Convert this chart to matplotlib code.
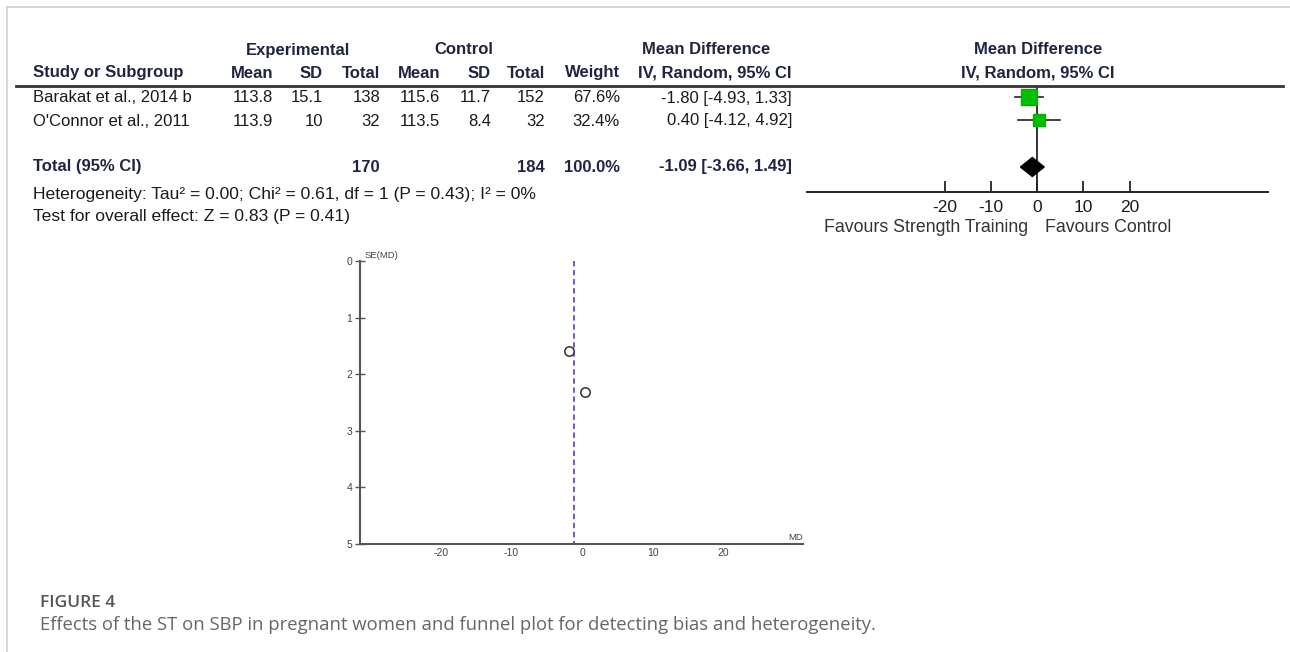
import numpy as np
import matplotlib
matplotlib.use("Agg")
import matplotlib.pyplot as plt
from matplotlib.patches import Polygon

# ---------------- data ----------------
studies = ["Barakat et al., 2014 b", "O'Connor et al., 2011"]
exp_mean = ["113.8", "113.9"]
exp_sd = ["15.1", "10"]
exp_n = [138, 32]
ctl_mean = ["115.6", "113.5"]
ctl_sd = ["11.7", "8.4"]
ctl_n = [152, 32]
weights = [67.6, 32.4]
md = [-1.80, 0.40]
ci_lo = [-4.93, -4.12]
ci_hi = [1.33, 4.92]
pooled_md = -1.09
pooled_lo = -3.66
pooled_hi = 1.49
forest_ticks = [-20, -10, 0, 10, 20]
funnel_xticks = [-20, -10, 0, 10, 20]
funnel_yticks = [0, 1, 2, 3, 4, 5]
heterogeneity = "Heterogeneity: Tau\u00b2 = 0.00; Chi\u00b2 = 0.61, df = 1 (P = 0.43); I\u00b2 = 0%"
overall = "Test for overall effect: Z = 0.83 (P = 0.41)"
left_label = "Favours Strength Training"
right_label = "Favours Control"
caption_title = "FIGURE 4"
caption_text = "Effects of the ST on SBP in pregnant women and funnel plot for detecting bias and heterogeneity."

W, H = 1290, 652
fig = plt.figure(figsize=(W / 100, H / 100), dpi=100)
fig.patch.set_facecolor("white")

def px_axes(x0, y0, x1, y1):
    return fig.add_axes([x0 / W, 1 - y1 / H, (x1 - x0) / W, (y1 - y0) / H])

# overlay in pixel coordinates
ov = fig.add_axes([0, 0, 1, 1])
ov.set_xlim(0, W)
ov.set_ylim(H, 0)
ov.axis("off")

FONT = "Liberation Sans"
TXT = "#1a1a1a"
HDR = "#1f2440"
fs = 12

# frame
ov.plot([7, W], [7, 7], color="#cfcfcf", lw=1.2)
ov.plot([7, 7], [7, H], color="#cfcfcf", lw=1.2)

# header
hy1, hy2 = 50, 73
ov.text(298, hy1, "Experimental", ha="center", va="center", fontsize=fs, fontweight="bold", family=FONT, color=HDR)
ov.text(464, hy1, "Control", ha="center", va="center", fontsize=fs, fontweight="bold", family=FONT, color=HDR)
ov.text(706, hy1, "Mean Difference", ha="center", va="center", fontsize=fs, fontweight="bold", family=FONT, color=HDR)
ov.text(1038, hy1, "Mean Difference", ha="center", va="center", fontsize=fs, fontweight="bold", family=FONT, color=HDR)
ov.text(33, hy2, "Study or Subgroup", ha="left", va="center", fontsize=fs, fontweight="bold", family=FONT, color=HDR)
col_right = [273, 323, 380, 440, 491, 545, 620, 792]
hdrs = ["Mean", "SD", "Total", "Mean", "SD", "Total", "Weight", "IV, Random, 95% CI"]
for xr, h in zip(col_right, hdrs):
    ov.text(xr, hy2, h, ha="right", va="center", fontsize=fs, fontweight="bold", family=FONT, color=HDR)
ov.text(1038, hy2, "IV, Random, 95% CI", ha="center", va="center", fontsize=fs, fontweight="bold", family=FONT, color=HDR)
ov.plot([16, 1283], [86, 86], color="#333333", lw=2)

row_y = [98, 121]
for i, s in enumerate(studies):
    y = row_y[i]
    vals = [exp_mean[i], exp_sd[i], str(exp_n[i]), ctl_mean[i], ctl_sd[i], str(ctl_n[i]),
            f"{weights[i]:.1f}%", f"{md[i]:.2f} [{ci_lo[i]:.2f}, {ci_hi[i]:.2f}]"]
    ov.text(33, y, s, ha="left", va="center", fontsize=fs, family=FONT, color=TXT)
    for xr, v in zip(col_right, vals):
        ov.text(xr, y, v, ha="right", va="center", fontsize=fs, family=FONT, color=TXT)

ty = 167
ov.text(33, ty, "Total (95% CI)", ha="left", va="center", fontsize=fs, fontweight="bold", family=FONT, color=HDR)
tot_vals = [(380, str(sum(exp_n))), (545, str(sum(ctl_n))), (620, f"{sum(weights):.1f}%"),
            (792, f"{pooled_md:.2f} [{pooled_lo:.2f}, {pooled_hi:.2f}]")]
for xr, v in tot_vals:
    ov.text(xr, ty, v, ha="right", va="center", fontsize=fs, fontweight="bold", family=FONT, color=HDR)
ov.text(33, 194, heterogeneity, ha="left", va="center", fontsize=12.6, family=FONT, color=TXT)
ov.text(33, 216, overall, ha="left", va="center", fontsize=12.6, family=FONT, color=TXT)

# ---------------- forest plot ----------------
fa = px_axes(806.7, 86, 1268, 191.7)
fa.set_xlim(-50, 50)
fa.set_ylim(191.7, 86)
for sp in ["top", "left", "right"]:
    fa.spines[sp].set_visible(False)
fa.spines["bottom"].set_linewidth(1.4)
fa.spines["bottom"].set_color("#222222")
fa.set_yticks([])
fa.set_xticks(forest_ticks)
fa.set_xticklabels([str(t) for t in forest_ticks], fontsize=12.5, family=FONT, color=TXT)
fa.tick_params(axis="x", direction="in", length=8, width=1.3, color="#222222", pad=6)
fa.patch.set_alpha(0)
fa.axvline(0, color="#333333", lw=1.4, zorder=1)
for i in range(len(studies)):
    y = row_y[i] - 1
    fa.plot([ci_lo[i], ci_hi[i]], [y, y], color="#222222", lw=1.2, zorder=2)
    side_px = 2.05 * np.sqrt(weights[i])
    fa.plot([md[i]], [y], marker="s", markersize=side_px * 0.72, color="#00c000",
            markeredgecolor="#00b000", zorder=3, linestyle="none")
dh = 9.5
fa.add_patch(Polygon([[pooled_lo, ty], [pooled_md, ty - dh], [pooled_hi, ty], [pooled_md, ty + dh]],
                     closed=True, facecolor="black", edgecolor="black", zorder=3))
ov.text(1028, 227, left_label, ha="right", va="center", fontsize=12.8, family=FONT, color="#333333")
ov.text(1045, 227, right_label, ha="left", va="center", fontsize=12.8, family=FONT, color="#333333")

# ---------------- funnel plot ----------------
se = [(h - l) / (2 * 1.96) for l, h in zip(ci_lo, ci_hi)]
fu = px_axes(360, 261, 803, 544)
fu.set_xlim(-31.4, 31.2)
fu.set_ylim(5, 0)
for sp in ["top", "right"]:
    fu.spines[sp].set_visible(False)
for sp in ["left", "bottom"]:
    fu.spines[sp].set_color("#555555")
    fu.spines[sp].set_linewidth(1.5)
fu.set_xticks(funnel_xticks)
fu.set_xticklabels([str(t) for t in funnel_xticks], fontsize=7.5, family=FONT, color="#444444")
fu.set_yticks(funnel_yticks)
fu.set_yticklabels([str(t) for t in funnel_yticks], fontsize=7.5, family=FONT, color="#444444")
fu.tick_params(axis="y", direction="inout", length=7, width=1, color="#555555", pad=2)
fu.tick_params(axis="x", direction="out", length=0, pad=3)
fu.plot([pooled_md, pooled_md], [0, 5], color="#5a50d0", lw=1.3, linestyle=(0, (3, 2)), zorder=1)
fu.scatter(md, se, s=46, facecolors="white", edgecolors="#333333", linewidths=1.1, zorder=3)
fu.patch.set_alpha(0)
ov.text(365, 255, "SE(MD)", ha="left", va="center", fontsize=6.8, family=FONT, color="#444444")
ov.text(803, 537, "MD", ha="right", va="center", fontsize=6.8, family=FONT, color="#444444")

# ---------------- caption ----------------
ov.text(40, 603, caption_title, ha="left", va="center", fontsize=12.5, family="Open Sans",
        fontweight="semibold", color="#555555")
ov.text(40, 625, caption_text, ha="left", va="center", fontsize=13.3, family="Open Sans", color="#666666")

fig.savefig("out.png", dpi=100, facecolor="white")
